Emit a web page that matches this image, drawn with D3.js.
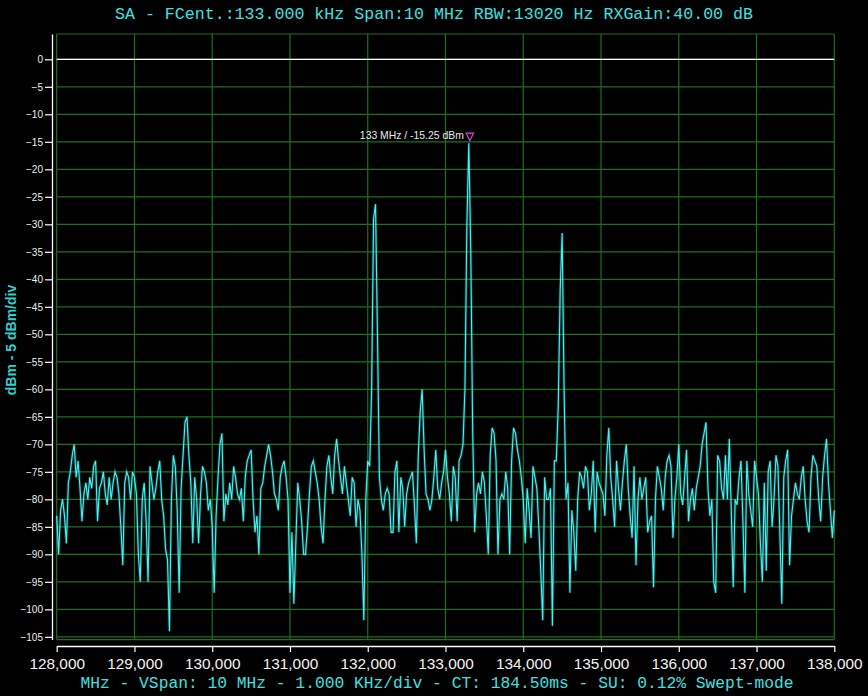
<!DOCTYPE html>
<html><head><meta charset="utf-8">
<script src="https://cdn.jsdelivr.net/npm/d3@7"></script>
<style>html,body{margin:0;background:#000;}svg{display:block}</style>
</head><body><svg id="c" width="868" height="696"></svg>
<script>
const titleText = "SA - FCent.:133.000 kHz Span:10 MHz RBW:13020 Hz RXGain:40.00 dB";
const footerText = "MHz - VSpan: 10 MHz - 1.000 KHz/div - CT: 184.50ms - SU: 0.12% Swept-mode";
const yTitleText = "dBm - 5 dBm/div";
const markerText = "133 MHz / -15.25 dBm";
const startFreq = 128000, stopFreq = 138000, stepFreq = 25; // kHz
const xTicks = [128000,129000,130000,131000,132000,133000,134000,135000,136000,137000,138000];
const yTicks = [0,-5,-10,-15,-20,-25,-30,-35,-40,-45,-50,-55,-60,-65,-70,-75,-80,-85,-90,-95,-100,-105];
const refLevel = 0;

const levels128 = [-83,-90,-82,-80,-83,-88,-77,-75,-72,-70,-76,-73,-78,-84,-79,-77,-80,-76,-78,-74,-73,-84,-78,-77,-75,-79,-81,-76,-80,-77,-75,-76,-79,-85,-92,-77,-75,-76,-80,-75];
const levels129 = [-76,-79,-90,-95,-80,-77,-84,-95,-74,-77,-80,-78,-75,-73,-80,-83,-89,-91,-104,-80,-72,-74,-82,-97,-78,-72,-66,-65,-72,-77,-88,-76,-80,-88,-79,-74,-75,-77,-82,-80];
const levels130 = [-85,-97,-83,-76,-70,-68,-84,-79,-81,-77,-80,-74,-76,-79,-80,-78,-84,-76,-73,-72,-71,-80,-86,-83,-90,-78,-77,-74,-72,-70,-72,-75,-79,-80,-82,-76,-74,-73,-76,-80];
const levels131 = [-97,-86,-99,-88,-77,-80,-84,-90,-90,-85,-79,-74,-73,-75,-77,-80,-85,-88,-80,-74,-72,-76,-79,-72,-69,-73,-76,-79,-74,-77,-80,-83,-76,-77,-85,-80,-82,-90,-102,-80];
const levels132 = [-73,-74,-60,-29,-26.3,-50,-76,-80,-82,-79,-78,-79,-86,-86,-75,-73,-86,-76,-78,-85,-79,-77,-76,-75,-81,-88,-72,-64,-60,-71,-79,-80,-82,-80,-76,-71,-78,-80,-77,-75];
const levels133 = [-71,-76,-79,-84,-74,-76,-84,-73,-72,-70,-60,-30,-15.25,-35,-68,-86,-79,-77,-79,-75,-77,-83,-90,-72,-67,-68,-73,-90,-80,-79,-80,-75,-78,-90,-73,-67,-68,-71,-73,-76];
const levels134 = [-80,-88,-78,-82,-87,-74,-76,-78,-85,-93,-102,-76,-80,-80,-78,-103,-73,-73,-63,-42,-31.6,-60,-80,-77,-97,-82,-86,-93,-80,-75,-76,-78,-74,-75,-82,-79,-73,-86,-75,-77];
const levels135 = [-78,-79,-83,-72,-67,-76,-80,-85,-73,-78,-82,-77,-73,-70,-78,-83,-87,-74,-92,-80,-76,-80,-78,-76,-86,-84,-83,-96,-80,-74,-76,-78,-82,-76,-73,-72,-74,-87,-80,-76];
const levels136 = [-70,-79,-81,-76,-71,-84,-80,-78,-82,-78,-76,-74,-70,-68,-66,-78,-83,-80,-95,-97,-72,-73,-78,-80,-72,-80,-69,-82,-96,-80,-81,-76,-73,-84,-97,-73,-79,-82,-85,-73];
const levels137 = [-76,-79,-88,-95,-77,-93,-75,-73,-85,-80,-72,-74,-86,-99,-76,-73,-71,-92,-83,-80,-77,-79,-80,-76,-74,-80,-84,-86,-76,-72,-73,-74,-80,-84,-76,-72,-69,-77,-82,-87,-82];

const levels = [].concat(levels128,levels129,levels130,levels131,levels132,levels133,levels134,levels135,levels136,levels137);
const trace = levels.map((v,i)=>({f:startFreq+i*stepFreq, v:v}));

const svg = d3.select("#c");
svg.append("rect").attr("width",868).attr("height",696).attr("fill","#000");

const x = d3.scaleLinear().domain([startFreq, stopFreq]).range([56.7, 834.3]);
const y = d3.scaleLinear().domain([-105.5, 4.6]).range([639.6, 34]);
const grid = "#1f6f1f";
const cyan = "#40e0e0";

// grid
const g = svg.append("g");
g.selectAll("line.v").data(xTicks).enter().append("line")
  .attr("x1",d=>x(d)).attr("x2",d=>x(d)).attr("y1",y.range()[1]).attr("y2",y.range()[0])
  .attr("stroke",grid).attr("stroke-width",1.2);
g.selectAll("line.h").data(yTicks.concat([4.6,-105.5])).enter().append("line")
  .attr("x1",x.range()[0]).attr("x2",x.range()[1]).attr("y1",d=>y(d)).attr("y2",d=>y(d))
  .attr("stroke",grid).attr("stroke-width",1.2);

// reference line
svg.append("line").attr("x1",x.range()[0]).attr("x2",x.range()[1])
  .attr("y1",y(refLevel)).attr("y2",y(refLevel)).attr("stroke","#fff").attr("stroke-width",1.2);

// trace
const line = d3.line().x(d=>x(d.f)).y(d=>y(d.v));
svg.append("path").datum(trace).attr("d",line).attr("fill","none")
  .attr("stroke","#30d8d8").attr("stroke-opacity",0.25).attr("stroke-width",3);
svg.append("path").datum(trace).attr("d",line).attr("fill","none")
  .attr("stroke","#48f2f2").attr("stroke-width",1.1);

// marker
const peak = trace.reduce((a,b)=>b.v>a.v?b:a);
const px = x(peak.f)+1, py = y(peak.v);
svg.append("path").attr("d",`M${px-3.7},${py-10}L${px+3.7},${py-10}L${px},${py-2.5}Z`)
  .attr("fill","none").attr("stroke","#e040e0").attr("stroke-width",1.2);
svg.append("text").attr("x",px-6).attr("y",py-4).attr("text-anchor","end")
  .attr("fill","#e8e8e8").attr("font-family","Liberation Sans, Arial, sans-serif")
  .attr("font-size","10.4px").text(markerText);

// axes
const yAxis = d3.axisLeft(y).tickValues(yTicks).tickSize(7).tickSizeOuter(0).tickPadding(2);
const ya = svg.append("g").attr("transform","translate(52,0)").call(yAxis);
ya.select(".domain").attr("stroke","#fff").attr("stroke-width",1.3);
ya.selectAll(".tick line").attr("stroke","#fff").attr("stroke-width",1.2);
ya.selectAll(".tick text").attr("fill","#eee").attr("font-family","Liberation Sans, Arial, sans-serif").attr("font-size","10px");

const xAxis = d3.axisBottom(x).tickValues(xTicks).tickSize(6).tickSizeOuter(0).tickPadding(6.4).tickFormat(d3.format(","));
const xa = svg.append("g").attr("transform","translate(0,646)").call(xAxis);
xa.select(".domain").attr("stroke","#fff").attr("stroke-width",1.3);
xa.selectAll(".tick line").attr("stroke","#fff").attr("stroke-width",1.2);
xa.selectAll(".tick text").attr("fill","#f2f2f2").attr("font-family","Liberation Sans, Arial, sans-serif").attr("font-size","15.4px");

// titles
svg.append("text").attr("x",434).attr("y",18.5).attr("text-anchor","middle")
  .attr("fill",cyan).attr("font-family","Liberation Mono, monospace").attr("font-size","16.6px")
  .attr("textLength",638).attr("lengthAdjust","spacingAndGlyphs").text(titleText);
svg.append("text").attr("x",437).attr("y",688).attr("text-anchor","middle")
  .attr("fill",cyan).attr("font-family","Liberation Mono, monospace").attr("font-size","16.3px")
  .attr("textLength",713).attr("lengthAdjust","spacingAndGlyphs").text(footerText);
svg.append("text").attr("transform","translate(15.5,340) rotate(-90)").attr("text-anchor","middle")
  .attr("fill","#33d0d0").attr("font-family","Liberation Sans, Arial, sans-serif").attr("font-weight","bold")
  .attr("font-size","14px").text(yTitleText);
</script></body></html>
